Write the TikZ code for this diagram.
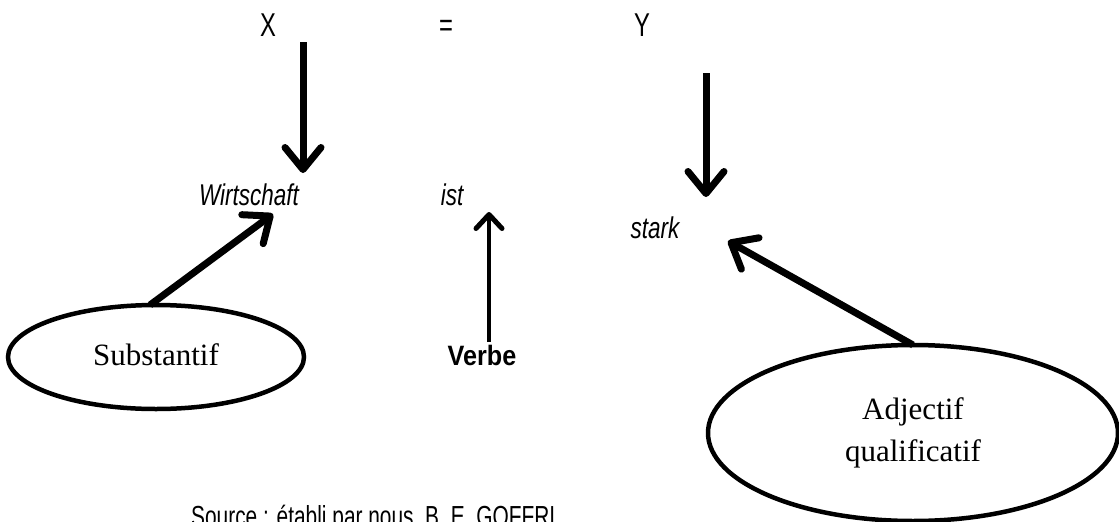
\documentclass[tikz,border=0pt]{standalone}
\usepackage{fontspec}
\setmainfont{Liberation Serif}
\newfontfamily\nsans[FakeStretch=0.72]{Liberation Sans}
\newfontfamily\isans[FakeStretch=0.75]{Liberation Sans}
\newfontfamily\bsans[FakeStretch=0.9]{Liberation Sans}
\usetikzlibrary{arrows.meta,shapes.geometric}
\tikzset{
  sym/.style={font=\nsans\fontsize{33}{36}\selectfont, inner sep=0pt, anchor=base},
  word/.style={font=\isans\itshape\fontsize{30}{32}\selectfont, inner sep=0pt, anchor=base},
  oval/.style={draw, ellipse, line width=4.5pt, inner sep=0pt, align=center,
    font=\fontsize{31}{42}\selectfont},
  bigarrow/.style={line width=7pt, -{Straight Barb[length=22pt,width=36pt,line width=7pt,round]}},
  smallarrow/.style={line width=4.5pt, -{Straight Barb[length=14pt,width=26pt,line width=5pt,round]}},
}
\begin{document}
\begin{tikzpicture}[x=1pt,y=-1pt]
\clip (0,0) rectangle (1119,522);
\fill[white] (0,0) rectangle (1119,522);
% top symbols
\node[sym] (X) at (268,36) {X};
\node[sym] (eq) at (446,36) {=};
\node[sym] (Y) at (642,36) {Y};
% words
\node[word] (wirt) at (249,205) {Wirtschaft};
\node[word] (ist) at (452,205) {ist};
\node[word] (stark) at (655,238) {stark};
\node[font=\bsans\bfseries\fontsize{28}{32}\selectfont, inner sep=0pt, anchor=base] (verbe) at (482,365) {Verbe};
% ellipses
\node[oval, minimum width=296pt, minimum height=104pt] (sub) at (156,357) {\raisebox{4pt}{Substantif}};
\node[oval, minimum width=410pt, minimum height=176pt] (adj) at (913,433) {Adjectif\\qualificatif};
% source
\node[font=\nsans\fontsize{29}{32}\selectfont, inner sep=0pt, anchor=base west] (src) at (191,526) {Source : établi par nous, B. E. GOFFRI};
% arrow ends
\coordinate (a1s) at (303,42);
\coordinate (a1e) at (303,173);
\coordinate (a2s) at (706,73);
\coordinate (a2e) at (706,197);
\coordinate (a3s) at (489,342);
\coordinate (a3e) at (489,212);
\coordinate (a4s) at (150,305);
\coordinate (a4e) at (273,214);
\coordinate (a5s) at (913,345);
\coordinate (a5e) at (728,241);
\draw[bigarrow] (a1s) -- (a1e);
\draw[bigarrow] (a2s) -- (a2e);
\draw[smallarrow] (a3s) -- (a3e);
\draw[bigarrow] (a4s) -- (a4e);
\draw[bigarrow] (a5s) -- (a5e);
\end{tikzpicture}
\end{document}
